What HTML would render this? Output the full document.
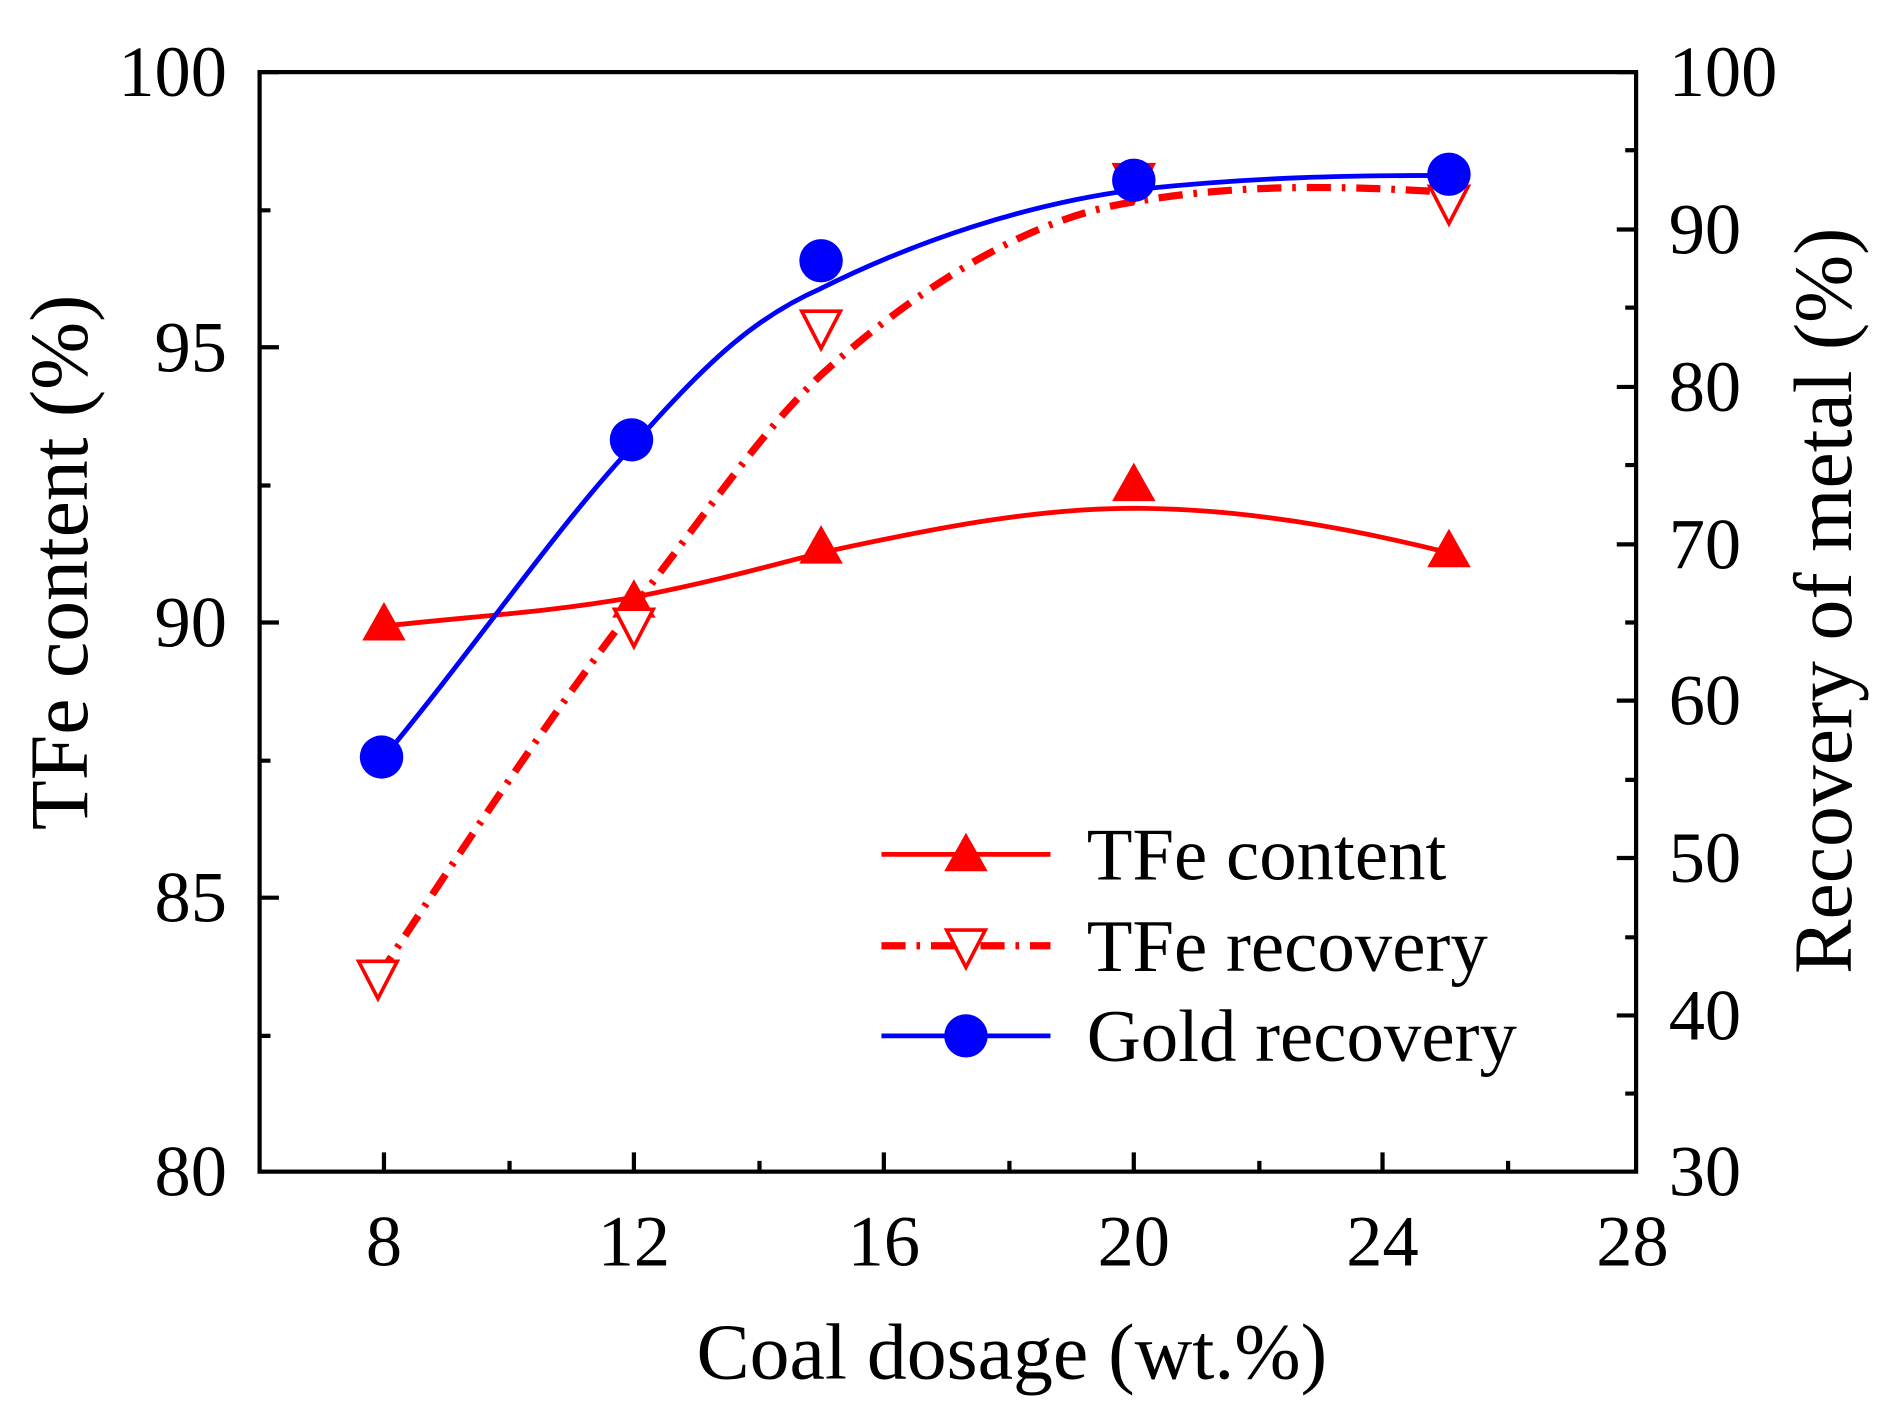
<!DOCTYPE html>
<html><head><style>html,body{margin:0;padding:0;background:#fff}svg{display:block}</style></head><body>
<svg width="1880" height="1418" viewBox="0 0 1557 1180" preserveAspectRatio="none" xmlns="http://www.w3.org/2000/svg" font-family="Liberation Serif, serif">
<rect x="0" y="0" width="1557" height="1180" fill="#fff"/>
<g stroke="#000" stroke-width="3.5" fill="none">
<rect x="215" y="60" width="1140" height="915"/>
<path d="M215 60h16M215 175h9M215 289h16M215 404h9M215 518h16M215 633h9M215 747h16M215 862h9"/>
<path d="M1355 60h-16M1355 125h-9M1355 191h-16M1355 256h-9M1355 322h-16M1355 387h-9M1355 453h-16M1355 518h-9M1355 583h-16M1355 649h-9M1355 714h-16M1355 780h-9M1355 845h-16M1355 910h-9"/>
<path d="M318 975v-16M422 975v-9M525 975v-16M629 975v-9M732 975v-16M836 975v-9M939 975v-16M1043 975v-9M1145 975v-16M1249 975v-9"/>
</g>
<g font-size="60" text-anchor="end">
<text x="188" y="80">100</text><text x="188" y="309">95</text><text x="188" y="538">90</text><text x="188" y="767">85</text><text x="188" y="995">80</text>
</g>
<g font-size="60" text-anchor="start">
<text x="1382" y="80">100</text><text x="1382" y="211">90</text><text x="1382" y="342">80</text><text x="1382" y="473">70</text><text x="1382" y="603">60</text><text x="1382" y="734">50</text><text x="1382" y="865">40</text><text x="1382" y="995">30</text>
</g>
<g font-size="60" text-anchor="middle">
<text x="318" y="1053">8</text><text x="525" y="1053">12</text><text x="732" y="1053">16</text><text x="939" y="1053">20</text><text x="1145" y="1053">24</text><text x="1352" y="1053">28</text>
</g>
<text x="838" y="1147" font-size="66" text-anchor="middle">Coal dosage (wt.%)</text>
<text transform="translate(72,468) rotate(-90)" font-size="68" text-anchor="middle">TFe content (%)</text>
<text transform="translate(1533,500) rotate(-90)" font-size="68" text-anchor="middle">Recovery of metal (%)</text>
<path d="M318 521 C400 512,450 510,525 497 C600 482,640 470,680 460 C780 438,860 423,939 423 C1030 423,1120 440,1200 460" stroke="#f00" stroke-width="4" fill="none"/>
<path d="M313 813 C400 680,460 590,525 505 C590 420,630 360,680 312 C770 230,860 180,939 168 C1030 152,1120 155,1200 160" stroke="#f00" stroke-width="6" fill="none" stroke-dasharray="20,9,3,9"/>
<path d="M318 630 C400 530,460 440,525 370 C590 295,630 262,680 240 C760 200,850 170,939 158 C1040 147,1120 146,1200 146" stroke="#00f" stroke-width="4" fill="none"/>
<g fill="#f00">
<path d="M318 501 l18 32 h-36z"/><path d="M525 482 l18 32 h-36z"/><path d="M680 437 l18 32 h-36z"/><path d="M939 385 l18 32 h-36z"/><path d="M1200 440 l18 32 h-36z"/>
</g>
<g fill="#fff" stroke="#f00" stroke-width="3">
<path d="M313 831 l-16 -31 h32z"/><path d="M525 538 l-16 -31 h32z"/><path d="M680 290 l-16 -31 h32z"/><path d="M939 168 l-16 -31 h32z"/><path d="M1200 186 l-16 -31 h32z"/>
</g>
<g fill="#00f">
<circle cx="316" cy="630" r="18"/><circle cx="523" cy="366" r="18"/><circle cx="680" cy="217" r="18"/><circle cx="939" cy="150" r="18"/><circle cx="1200" cy="145" r="18"/>
</g>
<path d="M730 711h140" stroke="#f00" stroke-width="4"/><path d="M800 693 l18 32 h-36z" fill="#f00"/>
<path d="M730 787h140" stroke="#f00" stroke-width="6" stroke-dasharray="20,9,3,9"/><path d="M800 805 l-16 -31 h32z" fill="#fff" stroke="#f00" stroke-width="3"/>
<path d="M730 862h140" stroke="#00f" stroke-width="4"/><circle cx="800" cy="862" r="18" fill="#00f"/>
<g font-size="62"><text x="900" y="732">TFe content</text><text x="900" y="808">TFe recovery</text><text x="900" y="883">Gold recovery</text></g>
</svg>
</body></html>
